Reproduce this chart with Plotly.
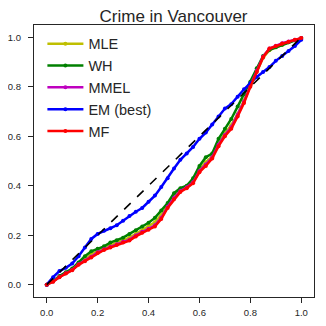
import plotly.graph_objects as go

# expected cdf positions (shared by all curves)
x_vals = [0.0, 0.025, 0.05, 0.075, 0.1, 0.125, 0.15, 0.175, 0.2, 0.225, 0.25,
          0.275, 0.3, 0.325, 0.35, 0.375, 0.4, 0.425, 0.45, 0.475, 0.5,
          0.525, 0.55, 0.575, 0.6, 0.625, 0.65, 0.675, 0.7, 0.725, 0.75,
          0.775, 0.8, 0.825, 0.85, 0.875, 0.9, 0.925, 0.95, 0.975, 1.0]

mle = [0.0, 0.013, 0.032, 0.047, 0.06, 0.084, 0.104, 0.122, 0.136, 0.148, 0.16,
       0.17, 0.18, 0.19, 0.205, 0.22, 0.235, 0.252, 0.282, 0.32, 0.356,
       0.382, 0.395, 0.418, 0.465, 0.495, 0.518, 0.57, 0.612, 0.645, 0.69,
       0.745, 0.805, 0.862, 0.918, 0.948, 0.96, 0.97, 0.98, 0.988, 0.997]
wh = [0.0, 0.015, 0.035, 0.05, 0.065, 0.09, 0.115, 0.135, 0.145, 0.155, 0.17,
      0.18, 0.19, 0.205, 0.22, 0.235, 0.25, 0.27, 0.3, 0.33, 0.37,
      0.39, 0.4, 0.43, 0.48, 0.515, 0.53, 0.59, 0.63, 0.67, 0.72,
      0.77, 0.82, 0.875, 0.925, 0.95, 0.96, 0.97, 0.98, 0.988, 0.997]
mmel = [0.0, 0.013, 0.031, 0.046, 0.059, 0.082, 0.097, 0.113, 0.131, 0.143, 0.153,
        0.163, 0.173, 0.182, 0.199, 0.214, 0.226, 0.24, 0.27, 0.315, 0.35,
        0.379, 0.394, 0.414, 0.46, 0.486, 0.515, 0.566, 0.605, 0.636, 0.686,
        0.74, 0.805, 0.865, 0.922, 0.955, 0.966, 0.976, 0.983, 0.99, 0.997]
em = [0.0, 0.03, 0.055, 0.068, 0.085, 0.115, 0.15, 0.185, 0.205, 0.218, 0.228,
      0.24, 0.258, 0.278, 0.295, 0.31, 0.335, 0.36, 0.395, 0.43, 0.47,
      0.505, 0.53, 0.557, 0.59, 0.615, 0.648, 0.68, 0.712, 0.73, 0.76,
      0.79, 0.815, 0.84, 0.86, 0.88, 0.905, 0.925, 0.945, 0.965, 0.99]
mf = [0.0, 0.012, 0.03, 0.045, 0.058, 0.08, 0.095, 0.11, 0.128, 0.14, 0.15,
      0.16, 0.17, 0.178, 0.195, 0.21, 0.222, 0.235, 0.265, 0.31, 0.345,
      0.375, 0.39, 0.41, 0.455, 0.48, 0.51, 0.56, 0.6, 0.63, 0.68,
      0.735, 0.8, 0.86, 0.92, 0.955, 0.965, 0.975, 0.982, 0.99, 0.997]

diag = [0.0, 1.0]
ticks = [0.0, 0.2, 0.4, 0.6, 0.8, 1.0]

series = [("MLE", mle, "#bfbf00"), ("WH", wh, "green"), ("MMEL", mmel, "#bf00bf"),
          ("EM (best)", em, "blue"), ("MF", mf, "red")]

fig = go.Figure()
for name, ys, col in series:
    fig.add_trace(go.Scatter(x=x_vals, y=ys, mode="lines+markers", name=name,
                             line=dict(color=col, width=2.5),
                             marker=dict(color=col, size=4, symbol="circle")))
fig.add_trace(go.Scatter(x=diag, y=diag, mode="lines", showlegend=False,
                         line=dict(color="black", width=1.6, dash="dash")))

axis = dict(range=[-0.05, 1.05], tickvals=ticks, tickformat=".1f",
            showgrid=False, zeroline=False, showline=True, mirror=True,
            linecolor="#262626", linewidth=1.3, ticks="outside", ticklen=5,
            tickwidth=1, tickcolor="#262626", automargin=False,
            tickfont=dict(size=9.5, color="#262626", family="Liberation Sans"))

# page body keeps an 8px margin, so the figure is 310 and margins are offset
fig.update_layout(
    width=310, height=310,
    margin=dict(l=26, r=4, t=17, b=21),
    paper_bgcolor="white", plot_bgcolor="white",
    title=dict(text="Crime in Vancouver", x=0.534, xanchor="center", y=0.974, yanchor="middle",
               font=dict(size=17, color="#262626", family="Liberation Sans")),
    xaxis=dict(axis, ticklabelstandoff=1),
    yaxis=dict(axis, ticklabelstandoff=5),
    legend=dict(x=0.03, y=0.99, xanchor="left", yanchor="top", bgcolor="rgba(0,0,0,0)",
                font=dict(size=14.5, color="#262626", family="Liberation Sans"),
                itemwidth=36, tracegroupgap=0),
    showlegend=True,
)

fig.write_html("out.html")
